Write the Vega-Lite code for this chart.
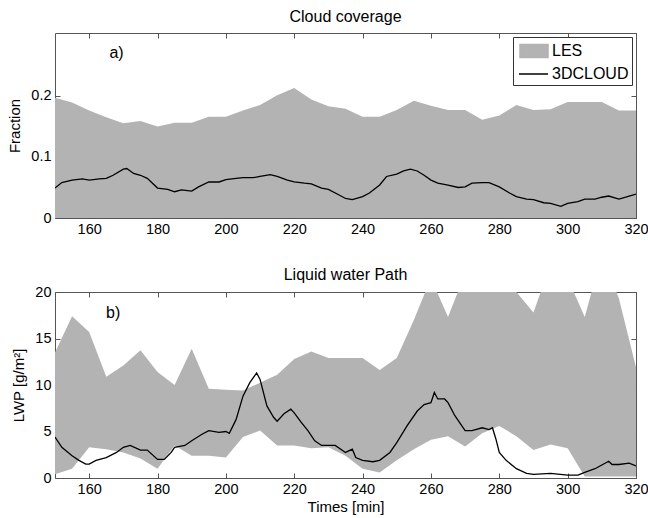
{
  "$schema": "https://vega.github.io/schema/vega-lite/v6.json",
  "padding": {"left": 7, "top": 8, "right": 2, "bottom": 2},
  "background": "white",
  "datasets": {
    "cc_band": [
      {"t": 150, "lo": 0, "hi": 0.197}, {"t": 155, "lo": 0, "hi": 0.189}, {"t": 160, "lo": 0, "hi": 0.176},
      {"t": 165, "lo": 0, "hi": 0.165}, {"t": 170, "lo": 0, "hi": 0.155}, {"t": 175, "lo": 0, "hi": 0.159},
      {"t": 180, "lo": 0, "hi": 0.150}, {"t": 185, "lo": 0, "hi": 0.156}, {"t": 190, "lo": 0, "hi": 0.156},
      {"t": 195, "lo": 0, "hi": 0.166}, {"t": 200, "lo": 0, "hi": 0.166}, {"t": 205, "lo": 0, "hi": 0.176},
      {"t": 210, "lo": 0, "hi": 0.185}, {"t": 215, "lo": 0, "hi": 0.201}, {"t": 220, "lo": 0, "hi": 0.213},
      {"t": 225, "lo": 0, "hi": 0.194}, {"t": 230, "lo": 0, "hi": 0.183}, {"t": 235, "lo": 0, "hi": 0.179},
      {"t": 240, "lo": 0, "hi": 0.166}, {"t": 245, "lo": 0, "hi": 0.166}, {"t": 250, "lo": 0, "hi": 0.177},
      {"t": 255, "lo": 0, "hi": 0.192}, {"t": 260, "lo": 0, "hi": 0.184}, {"t": 265, "lo": 0, "hi": 0.177},
      {"t": 270, "lo": 0, "hi": 0.177}, {"t": 275, "lo": 0, "hi": 0.161}, {"t": 280, "lo": 0, "hi": 0.168},
      {"t": 285, "lo": 0, "hi": 0.185}, {"t": 290, "lo": 0, "hi": 0.177}, {"t": 295, "lo": 0, "hi": 0.178},
      {"t": 300, "lo": 0, "hi": 0.190}, {"t": 305, "lo": 0, "hi": 0.190}, {"t": 310, "lo": 0, "hi": 0.190},
      {"t": 315, "lo": 0, "hi": 0.176}, {"t": 320, "lo": 0, "hi": 0.176}
    ],
    "cc_line": [
      {"t": 150, "v": 0.049}, {"t": 152, "v": 0.058}, {"t": 155, "v": 0.062}, {"t": 158, "v": 0.064},
      {"t": 160, "v": 0.062}, {"t": 163, "v": 0.064}, {"t": 165, "v": 0.065}, {"t": 167, "v": 0.070},
      {"t": 170, "v": 0.080}, {"t": 171, "v": 0.081}, {"t": 173, "v": 0.073}, {"t": 175, "v": 0.070},
      {"t": 177, "v": 0.065}, {"t": 180, "v": 0.049}, {"t": 183, "v": 0.047}, {"t": 185, "v": 0.043},
      {"t": 187, "v": 0.046}, {"t": 190, "v": 0.044}, {"t": 192, "v": 0.051}, {"t": 195, "v": 0.059},
      {"t": 198, "v": 0.059}, {"t": 200, "v": 0.063}, {"t": 203, "v": 0.065}, {"t": 205, "v": 0.066},
      {"t": 208, "v": 0.066}, {"t": 210, "v": 0.068}, {"t": 213, "v": 0.071}, {"t": 215, "v": 0.068},
      {"t": 218, "v": 0.062}, {"t": 220, "v": 0.059}, {"t": 223, "v": 0.057}, {"t": 225, "v": 0.056},
      {"t": 228, "v": 0.049}, {"t": 230, "v": 0.047}, {"t": 233, "v": 0.038}, {"t": 235, "v": 0.032},
      {"t": 237, "v": 0.030}, {"t": 240, "v": 0.035}, {"t": 242, "v": 0.041}, {"t": 245, "v": 0.054},
      {"t": 247, "v": 0.068}, {"t": 250, "v": 0.072}, {"t": 252, "v": 0.077}, {"t": 254, "v": 0.080},
      {"t": 256, "v": 0.077}, {"t": 258, "v": 0.070}, {"t": 260, "v": 0.062}, {"t": 262, "v": 0.057},
      {"t": 265, "v": 0.054}, {"t": 268, "v": 0.050}, {"t": 270, "v": 0.051}, {"t": 272, "v": 0.057},
      {"t": 275, "v": 0.058}, {"t": 277, "v": 0.058}, {"t": 280, "v": 0.051}, {"t": 283, "v": 0.041},
      {"t": 285, "v": 0.035}, {"t": 288, "v": 0.031}, {"t": 290, "v": 0.030}, {"t": 293, "v": 0.025},
      {"t": 295, "v": 0.024}, {"t": 298, "v": 0.019}, {"t": 300, "v": 0.024}, {"t": 303, "v": 0.027},
      {"t": 305, "v": 0.031}, {"t": 308, "v": 0.031}, {"t": 310, "v": 0.034}, {"t": 312, "v": 0.036},
      {"t": 315, "v": 0.031}, {"t": 317, "v": 0.034}, {"t": 320, "v": 0.039}
    ],
    "lwp_band": [
      {"t": 150, "lo": 0.4, "hi": 13.5}, {"t": 155, "lo": 1.0, "hi": 17.4}, {"t": 160, "lo": 3.3, "hi": 15.7},
      {"t": 165, "lo": 3.1, "hi": 10.9}, {"t": 170, "lo": 2.75, "hi": 12.1}, {"t": 175, "lo": 2.1, "hi": 13.75},
      {"t": 180, "lo": 1.0, "hi": 11.4}, {"t": 185, "lo": 3.5, "hi": 10.0}, {"t": 190, "lo": 2.4, "hi": 13.9},
      {"t": 195, "lo": 2.4, "hi": 9.6}, {"t": 200, "lo": 2.2, "hi": 9.5}, {"t": 205, "lo": 4.4, "hi": 9.4},
      {"t": 210, "lo": 5.1, "hi": 10.25}, {"t": 215, "lo": 3.5, "hi": 11.1}, {"t": 220, "lo": 3.5, "hi": 12.8},
      {"t": 225, "lo": 3.2, "hi": 13.6}, {"t": 230, "lo": 3.3, "hi": 12.9}, {"t": 235, "lo": 2.4, "hi": 12.9},
      {"t": 240, "lo": 1.0, "hi": 12.9}, {"t": 245, "lo": 0.6, "hi": 11.6}, {"t": 250, "lo": 1.9, "hi": 12.9},
      {"t": 255, "lo": 3.1, "hi": 17.0}, {"t": 260, "lo": 4.1, "hi": 21.5}, {"t": 265, "lo": 4.5, "hi": 17.3},
      {"t": 270, "lo": 3.4, "hi": 22.0}, {"t": 275, "lo": 4.8, "hi": 22.0}, {"t": 280, "lo": 5.6, "hi": 21.5},
      {"t": 285, "lo": 4.5, "hi": 20.0}, {"t": 290, "lo": 3.0, "hi": 17.8}, {"t": 295, "lo": 3.6, "hi": 23.0},
      {"t": 300, "lo": 3.2, "hi": 21.5}, {"t": 305, "lo": 0.15, "hi": 17.3}, {"t": 310, "lo": 0.15, "hi": 24.0},
      {"t": 315, "lo": 0.15, "hi": 19.3}, {"t": 320, "lo": 0.15, "hi": 11.9}
    ],
    "lwp_line": [
      {"t": 150, "v": 4.4}, {"t": 152, "v": 3.3}, {"t": 155, "v": 2.4}, {"t": 157, "v": 1.9},
      {"t": 159, "v": 1.5}, {"t": 160, "v": 1.5}, {"t": 162, "v": 1.9}, {"t": 165, "v": 2.2},
      {"t": 168, "v": 2.75}, {"t": 170, "v": 3.3}, {"t": 172, "v": 3.5}, {"t": 175, "v": 3.0},
      {"t": 177, "v": 3.0}, {"t": 180, "v": 2.0}, {"t": 182, "v": 2.0}, {"t": 184, "v": 2.75},
      {"t": 185, "v": 3.3}, {"t": 188, "v": 3.5}, {"t": 190, "v": 4.0}, {"t": 193, "v": 4.7},
      {"t": 195, "v": 5.1}, {"t": 198, "v": 4.9}, {"t": 200, "v": 5.0}, {"t": 201, "v": 4.8},
      {"t": 203, "v": 6.3}, {"t": 205, "v": 8.8}, {"t": 207, "v": 10.25}, {"t": 209, "v": 11.3},
      {"t": 210, "v": 10.6}, {"t": 212, "v": 7.75}, {"t": 214, "v": 6.5}, {"t": 215, "v": 6.1},
      {"t": 217, "v": 6.9}, {"t": 219, "v": 7.4}, {"t": 220, "v": 7.0}, {"t": 222, "v": 6.0},
      {"t": 224, "v": 5.1}, {"t": 226, "v": 4.0}, {"t": 228, "v": 3.5}, {"t": 230, "v": 3.5},
      {"t": 232, "v": 3.5}, {"t": 235, "v": 2.75}, {"t": 237, "v": 3.1}, {"t": 238, "v": 2.2},
      {"t": 240, "v": 1.9}, {"t": 243, "v": 1.75}, {"t": 245, "v": 1.9}, {"t": 248, "v": 2.75},
      {"t": 250, "v": 3.8}, {"t": 253, "v": 5.6}, {"t": 256, "v": 7.2}, {"t": 258, "v": 7.9},
      {"t": 260, "v": 8.1}, {"t": 261, "v": 9.2}, {"t": 262, "v": 8.5}, {"t": 264, "v": 8.5},
      {"t": 265, "v": 8.1}, {"t": 267, "v": 6.7}, {"t": 270, "v": 5.1}, {"t": 272, "v": 5.1},
      {"t": 275, "v": 5.4}, {"t": 277, "v": 5.2}, {"t": 278, "v": 5.4}, {"t": 279, "v": 4.2},
      {"t": 280, "v": 2.75}, {"t": 282, "v": 1.9}, {"t": 285, "v": 1.0}, {"t": 288, "v": 0.5},
      {"t": 290, "v": 0.4}, {"t": 295, "v": 0.5}, {"t": 300, "v": 0.3}, {"t": 303, "v": 0.3},
      {"t": 305, "v": 0.6}, {"t": 308, "v": 1.0}, {"t": 310, "v": 1.4}, {"t": 312, "v": 1.8},
      {"t": 313, "v": 1.45}, {"t": 315, "v": 1.45}, {"t": 318, "v": 1.6}, {"t": 320, "v": 1.3}
    ]
  },
  "spacing": 74,
  "bounds": "flush",
  "resolve": {"scale": {"color": "independent"}},
  "vconcat": [
    {
      "width": 581,
      "height": 185,
      "title": {"text": "Cloud coverage", "fontSize": 16, "fontWeight": "normal", "offset": 8, "color": "black"},
      "layer": [
        {
          "data": {"name": "cc_band"},
          "mark": {"type": "area", "clip": true, "opacity": 1},
          "encoding": {
            "x": {"field": "t", "type": "quantitative", "scale": {"domain": [150, 320], "nice": false, "zero": false},
                  "axis": {"orient": "bottom", "values": [160, 180, 200, 220, 240, 260, 280, 300, 320], "title": null}},
            "y": {"field": "hi", "type": "quantitative", "scale": {"domain": [0, 0.303], "nice": false},
                  "axis": {"orient": "left", "values": [0, 0.1, 0.2], "format": "~g", "title": "Fraction", "titlePadding": 8}},
            "y2": {"field": "lo"},
            "color": {
              "datum": "LES",
              "scale": {"domain": ["LES", "3DCLOUD"], "range": ["#b3b3b3", "#000000"]},
              "legend": {
                "title": null,
                "orient": "top-right",
                "offset": 4,
                "strokeColor": "#333333",
                "fillColor": "white",
                "padding": 3,
                "symbolOffset": 7,
                "labelFontSize": 16,
                "labelColor": "black",
                "labelOffset": 7,
                "rowPadding": 2,
                "symbolSize": 400,
                "symbolOpacity": 1,
                "encoding": {
                  "symbols": {
                    "shape": {"value": {"expr": "datum.value == 'LES' ? 'M-1.4,-0.65H1.4V0.65H-1.4Z' : 'M-1.5,0H1.4'"}},
                    "fill": {"value": {"expr": "datum.value == 'LES' ? '#b3b3b3' : 'transparent'"}},
                    "stroke": {"value": {"expr": "datum.value == 'LES' ? 'transparent' : '#000000'"}},
                    "strokeWidth": {"value": 1.5}
                  }
                }
              }
            }
          }
        },
        {
          "data": {"name": "cc_line"},
          "mark": {"type": "line", "strokeWidth": 1.3, "clip": true},
          "encoding": {
            "x": {"field": "t", "type": "quantitative",
                  "axis": {"orient": "top", "labels": false, "title": null, "values": [160, 180, 200, 220, 240, 260, 280, 300, 320]}},
            "y": {"field": "v", "type": "quantitative",
                  "axis": {"orient": "right", "labels": false, "title": null, "values": [0, 0.1, 0.2]}},
            "color": {"datum": "3DCLOUD"}
          }
        },
        {
          "data": {"values": [{"t": 168, "v": 0.27, "label": "a)"}]},
          "mark": {"type": "text", "fontSize": 16, "color": "black"},
          "encoding": {
            "x": {"field": "t", "type": "quantitative", "axis": null},
            "y": {"field": "v", "type": "quantitative", "axis": null},
            "text": {"field": "label"}
          }
        }
      ],
      "resolve": {"axis": {"x": "independent", "y": "independent"}}
    },
    {
      "width": 581,
      "height": 186,
      "title": {"text": "Liquid water Path", "fontSize": 16, "fontWeight": "normal", "offset": 1, "color": "black"},
      "layer": [
        {
          "data": {"name": "lwp_band"},
          "mark": {"type": "area", "clip": true, "color": "#b3b3b3", "opacity": 1},
          "encoding": {
            "x": {"field": "t", "type": "quantitative", "scale": {"domain": [150, 320], "nice": false, "zero": false},
                  "axis": {"orient": "bottom", "values": [160, 180, 200, 220, 240, 260, 280, 300, 320], "title": "Times [min]", "titlePadding": 4}},
            "y": {"field": "hi", "type": "quantitative", "scale": {"domain": [0, 20], "nice": false},
                  "axis": {"orient": "left", "values": [0, 5, 10, 15, 20], "title": "LWP [g/m²]", "titlePadding": 8}},
            "y2": {"field": "lo"}
          }
        },
        {
          "data": {"name": "lwp_line"},
          "mark": {"type": "line", "strokeWidth": 1.3, "color": "black", "clip": true},
          "encoding": {
            "x": {"field": "t", "type": "quantitative",
                  "axis": {"orient": "top", "labels": false, "title": null, "values": [160, 180, 200, 220, 240, 260, 280, 300, 320]}},
            "y": {"field": "v", "type": "quantitative",
                  "axis": {"orient": "right", "labels": false, "title": null, "values": [0, 5, 10, 15, 20]}}
          }
        },
        {
          "data": {"values": [{"t": 167, "v": 17.7, "label": "b)"}]},
          "mark": {"type": "text", "fontSize": 16, "color": "black"},
          "encoding": {
            "x": {"field": "t", "type": "quantitative", "axis": null},
            "y": {"field": "v", "type": "quantitative", "axis": null},
            "text": {"field": "label"}
          }
        }
      ],
      "resolve": {"axis": {"x": "independent", "y": "independent"}}
    }
  ],
  "config": {
    "font": "Liberation Sans",
    "view": {"stroke": "#555555", "strokeWidth": 1},
    "axis": {
      "grid": false,
      "domain": false,
      "labelFlush": false,
      "labelOverlap": false,
      "labelFontSize": 14.5,
      "labelColor": "black",
      "titleFontSize": 15,
      "titleFontWeight": "normal",
      "titleColor": "black",
      "tickColor": "#555555",
      "tickSize": -5,
      "labelPadding": 9
    },
    "title": {"font": "Liberation Sans"}
  }
}
